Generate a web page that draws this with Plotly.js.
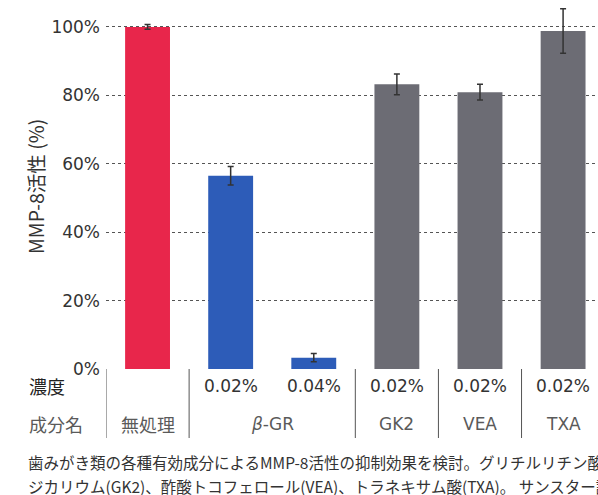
<!DOCTYPE html>
<html>
<head>
<meta charset="utf-8">
<script src="https://cdn.plot.ly/plotly-3.0.1.min.js"></script>
<style>html,body{margin:0;padding:0;background:#fff;}#chart{width:598px;height:495px;}</style>
</head>
<body>
<div id="chart"></div>
<script>
// Data
const categories = ["無処理", "β-GR 0.02%", "β-GR 0.04%", "GK2", "VEA", "TXA"];
const activity = [100, 56.5, 3.3, 83.2, 80.9, 98.8];
const errors = [0.7, 2.7, 1.2, 3.0, 2.3, 6.5];
const barColors = ["#e8264b", "#2d5cb8", "#2d5cb8", "#6c6c74", "#6c6c74", "#6c6c74"];
const concLabels = ["", "0.02%", "0.04%", "0.02%", "0.02%", "0.02%"];
const nameLabels = [{text: "無処理", pos: 0}, {text: "<i>β</i>-GR", pos: 1.5}, {text: "GK2", pos: 3}, {text: "VEA", pos: 4}, {text: "TXA", pos: 5}];
const separators = [-0.5, 0.5, 2.5, 3.5, 4.5];
const yTicks = [0, 20, 40, 60, 80, 100];
const rowTitles = ["濃度", "成分名"];
const captionLines = [
  "歯みがき類の各種有効成分によるMMP-8活性の抑制効果を検討。グリチルリチン酸",
  "ジカリウム(GK2)、酢酸トコフェロール(VEA)、トラネキサム酸(TXA)。 サンスター調べ"
];
const yTitle = "MMP-8活性 (%)";

const latin = "DejaVu Sans, Noto Sans CJK JP, sans-serif";
const cjk = "Noto Sans CJK JP, sans-serif";

const trace = {
  type: "bar",
  x: categories,
  y: activity,
  marker: {color: barColors, line: {width: 0}},
  error_y: {type: "data", array: errors, visible: true, color: "#333", thickness: 1.5, width: 3},
  hoverinfo: "none"
};

const annotations = [];
categories.forEach((c, i) => {
  if (concLabels[i]) annotations.push({xref: "x", yref: "paper", x: i, y: -0.0467, text: concLabels[i], showarrow: false, xanchor: "center", yanchor: "middle", font: {family: latin, size: 17, color: "#333"}});
});
nameLabels.forEach(n => {
  annotations.push({xref: "x", yref: "paper", x: n.pos, y: -0.151, text: n.text, showarrow: false, xanchor: "center", yanchor: "middle", font: {family: n.pos === 0 ? cjk : latin, size: n.pos === 0 ? 18 : 17, color: "#5a5a5a"}});
});
annotations.push({xref: "paper", yref: "paper", x: -0.1606, y: -0.0467, text: rowTitles[0], showarrow: false, xanchor: "left", yanchor: "middle", font: {family: cjk, size: 18, color: "#222"}});
annotations.push({xref: "paper", yref: "paper", x: -0.1606, y: -0.151, text: rowTitles[1], showarrow: false, xanchor: "left", yanchor: "middle", font: {family: cjk, size: 18, color: "#5a5a5a"}});
captionLines.forEach((t, i) => {
  annotations.push({xref: "paper", yref: "paper", x: -0.1626, y: i === 0 ? -0.2555 : -0.3214, text: t, showarrow: false, xanchor: "left", yanchor: "middle", font: {family: cjk, size: 15.5, color: "#333"}});
});
annotations.push({xref: "paper", yref: "paper", x: -0.1443, y: 0.5, text: yTitle, textangle: -90, showarrow: false, xanchor: "center", yanchor: "middle", font: {family: cjk, size: 19.5, color: "#333"}});

const shapes = separators.map(s => ({type: "line", xref: "x", yref: "paper", x0: s, x1: s, y0: 0, y1: -0.1896, line: {color: "#555", width: 1}}));

const layout = {
  width: 598, height: 495,
  margin: {l: 106, r: 0, t: 5, b: 126},
  paper_bgcolor: "#fff", plot_bgcolor: "#fff",
  showlegend: false,
  bargap: 0.46,
  xaxis: {type: "category", range: [-0.5, 5.42], showticklabels: false, showgrid: false, zeroline: false, showline: false, ticks: "", fixedrange: true},
  yaxis: {range: [0, 106.4], tickvals: yTicks, ticktext: yTicks.map(v => v + "%"), showgrid: true, gridcolor: "#555", griddash: "dot", gridwidth: 1, zeroline: false, showline: false, ticks: "", ticklabelstandoff: 5, tickfont: {family: latin, size: 17, color: "#333"}, fixedrange: true},
  annotations: annotations,
  shapes: shapes
};

Plotly.newPlot("chart", [trace], layout, {displayModeBar: false, staticPlot: true});
</script>
</body>
</html>
